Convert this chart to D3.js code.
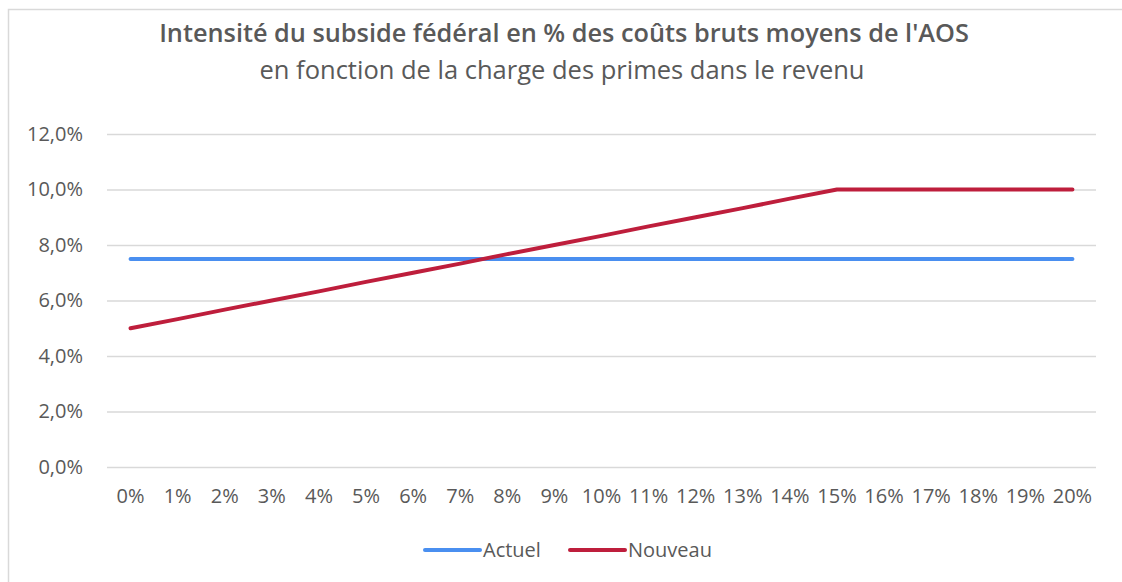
<!DOCTYPE html>
<html><head><meta charset="utf-8">
<script src="https://cdn.jsdelivr.net/npm/d3@7"></script>
<style>body{margin:0;background:#fff}svg{display:block}text{font-family:"Open Sans","Liberation Sans",sans-serif}</style>
</head><body><svg id="c" width="1122" height="582"></svg>
<script>
const categories = ["0%","1%","2%","3%","4%","5%","6%","7%","8%","9%","10%","11%","12%","13%","14%","15%","16%","17%","18%","19%","20%"];
const actuel = [7.5,7.5,7.5,7.5,7.5,7.5,7.5,7.5,7.5,7.5,7.5,7.5,7.5,7.5,7.5,7.5,7.5,7.5,7.5,7.5,7.5];
const nouveau = [5.0,5.33,5.67,6.0,6.33,6.67,7.0,7.33,7.67,8.0,8.33,8.67,9.0,9.33,9.67,10.0,10.0,10.0,10.0,10.0,10.0];
const yTicks = [0,2,4,6,8,10,12];
const seriesNames = ["Actuel","Nouveau"];
const titleText = "Intensité du subside fédéral en % des coûts bruts moyens de l'AOS";
const subtitleText = "en fonction de la charge des primes dans le revenu";

const svg = d3.select("#c");
const grey = "#595959";
const colors = {"Actuel":"#4a8ff0","Nouveau":"#be1e3c"};

svg.append("rect").attr("x",8.5).attr("y",9.5).attr("width",1300).attr("height",800)
  .attr("fill","none").attr("stroke","#d9d9d9").attr("stroke-width",1.5);

svg.append("text").attr("x",564).attr("y",42).attr("text-anchor","middle")
  .attr("font-size",25.3).attr("font-weight",600).attr("fill",grey).text(titleText);
svg.append("text").attr("x",562).attr("y",79).attr("text-anchor","middle")
  .attr("font-size",25.5).attr("fill",grey).text(subtitleText);

const x = d3.scaleBand().domain(categories).range([107,1096]);
const y = d3.scaleLinear().domain([0,12]).range([467,134]);

const ga = svg.append("g").attr("transform","translate(107,0)")
  .call(d3.axisLeft(y).tickValues(yTicks).tickSize(-(1096-107)).tickFormat(d=>d.toFixed(1).replace(".",",")+"%"));
ga.select(".domain").remove();
ga.selectAll(".tick line").attr("stroke","#d9d9d9").attr("stroke-width",1.3);
ga.selectAll(".tick text").attr("x",-24).attr("font-size",20).attr("fill",grey).attr("font-family","Open Sans");

const gx = svg.append("g").attr("transform","translate(0,467)")
  .call(d3.axisBottom(x).tickSize(0));
gx.select(".domain").remove();
gx.selectAll(".tick text").attr("dy",0).attr("y",36).attr("font-size",20).attr("fill",grey).attr("font-family","Open Sans");

const line = d3.line().x((d,i)=>x(categories[i])+x.bandwidth()/2).y(d=>y(d));
[["Actuel",actuel],["Nouveau",nouveau]].forEach(([n,vals])=>{
  svg.append("path").datum(vals).attr("d",line).attr("fill","none")
    .attr("stroke",colors[n]).attr("stroke-width",4).attr("stroke-linecap","round").attr("stroke-linejoin","round");
});

const legX = [425,570];
seriesNames.forEach((n,i)=>{
  const g = svg.append("g").attr("transform",`translate(${legX[i]},550)`);
  g.append("line").attr("x1",0).attr("x2",55).attr("y1",0).attr("y2",0)
    .attr("stroke",colors[n]).attr("stroke-width",4).attr("stroke-linecap","round");
  g.append("text").attr("x",58).attr("y",7).attr("font-size",20).attr("fill",grey).text(n);
});
</script></body></html>
